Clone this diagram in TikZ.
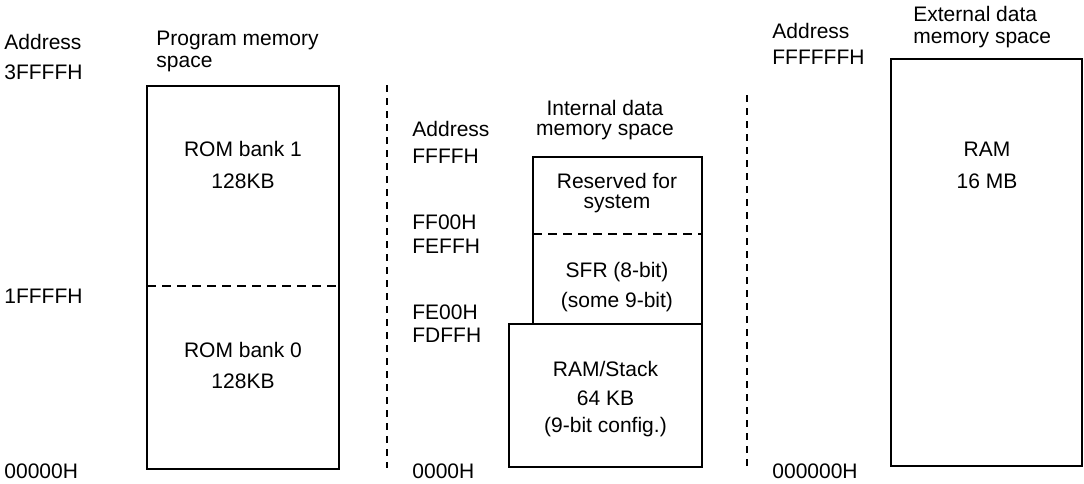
\documentclass[tikz,border=0pt]{standalone}
\usepackage{fontspec}
\setmainfont{Liberation Sans}
\usepackage{tikz}
\usetikzlibrary{positioning}

\begin{document}
\begin{tikzpicture}[x=0.5pt, y=-0.5pt,
  every node/.style={font=\fontsize{10.5}{12}\selectfont, inner sep=0pt, text height=0.716em, text depth=0pt},
  addr/.style={anchor=west},
  memline/.style={line width=1pt},
  splitline/.style={line width=0.75pt, dash pattern=on 4.5pt off 3pt},
  sepline/.style={line width=0.75pt, dash pattern=on 3.5pt off 3pt}]
  \useasboundingbox (0,0) rectangle (1084,483);
  % program memory  y=86..469  (y axis inverted for display)
  \node[addr] (paddr) at (4,42.5){Address};
  \node[addr] (ptop) at (4,72.5){3FFFFH};
  \node[addr] (pmid) at (4,296){1FFFFH};
  \node[addr] (pbot) at (4,471.5){00000H};
  \node[addr] (ptitle) at (156,38){Program memory};
  \node[addr] (ptitleb) at (156,60.5){space};
  \draw[memline](147,86) rectangle (339,469);
  \draw[splitline](147,286) -- (339,286);
  \node (rom1) at (243,149.5){ROM bank 1};
  \node (rom1sz) at (243,181){128KB};
  \node (rom0) at (243,350){ROM bank 0};
  \node (rom0sz) at (243,381.5){128KB};
  % separator left
  \draw[sepline](387,85) -- (387,468);
  % internal data memory
  \node[addr] (iaddr) at (412,129){Address};
  \node[addr] (itop) at (412,156.5){FFFFH};
  \node[addr] (ires) at (412,222){FF00H};
  \node[addr] (isfr) at (412,246){FEFFH};
  \node[addr] (isfrb) at (412,312.5){FE00H};
  \node[addr] (iram) at (412,335.5){FDFFH};
  \node[addr] (ibot) at (412,471.5){0000H};
  \node (ititle) at (605,108){Internal data};
  \node (ititleb) at (605,128){memory space};
  \draw[memline](533,157) rectangle (702,324);
  \draw[splitline](533,234) -- (702,234);
  \draw[memline](509,324) rectangle (702,467);
  \node (resv) at (617,181){Reserved for};
  \node (resvb) at (617,201){system};
  \node (sfr) at (617,270){SFR (8-bit)};
  \node (sfrb) at (617,300){(some 9-bit)};
  \node (stack) at (605.5,369){RAM/Stack};
  \node (stacksz) at (605.5,398){64 KB};
  \node (stackcfg) at (605.5,425.5){(9-bit config.)};
  % separator right
  \draw[sepline](747,95) -- (747,466);
  % external data memory
  \node[addr] (eaddr) at (772,31.5){Address};
  \node[addr] (etop) at (772,57.5){FFFFFFH};
  \node[addr] (ebot) at (772,471.5){000000H};
  \node[addr] (etitle) at (913,14){External data};
  \node[addr] (etitleb) at (913,36){memory space};
  \draw[memline](891,59) rectangle (1082,466);
  \node (eram) at (987,149.5){RAM};
  \node (eramsz) at (987,181){16 MB};
\end{tikzpicture}
\end{document}
